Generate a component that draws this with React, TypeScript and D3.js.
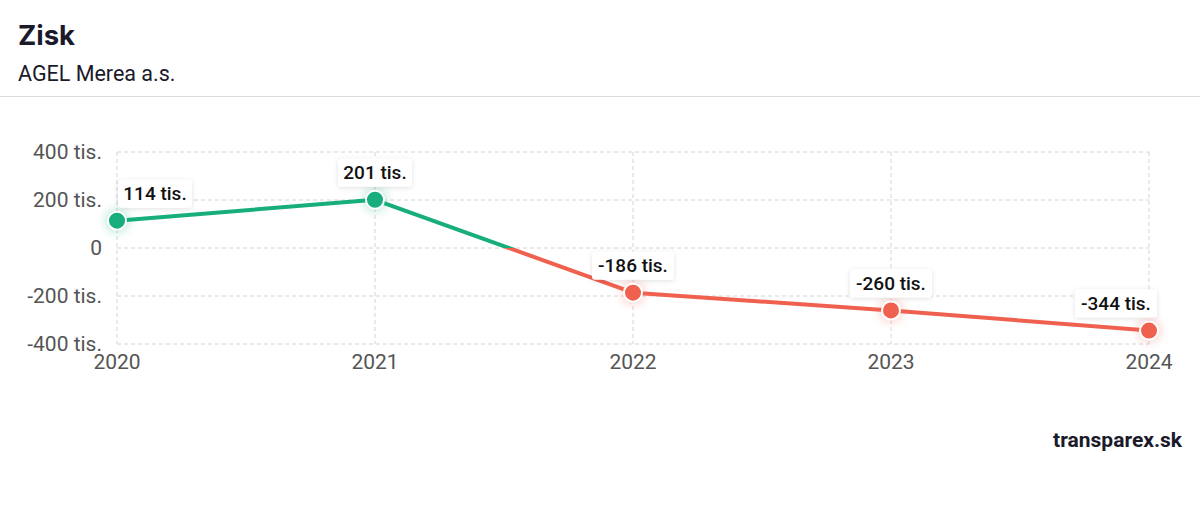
import React from "react";
import * as d3 from "d3";

const years = ["2020", "2021", "2022", "2023", "2024"];
const profit = [114, 201, -186, -260, -344];
const valueLabels = ["114 tis.", "201 tis.", "-186 tis.", "-260 tis.", "-344 tis."];
const yTicks = [400, 200, 0, -200, -400];
const yTickLabels = ["400 tis.", "200 tis.", "0", "-200 tis.", "-400 tis."];

const GREEN = "#17ad7c";
const RED = "#f0604f";

export default function App() {
  const W = 1200, H = 520;
  const x = d3.scalePoint<string>().domain(years).range([117, 1149]);
  const y = d3.scaleLinear().domain([-400, 400]).range([344, 152]);
  const pts = years.map((yr, i) => ({ yr, v: profit[i], lab: valueLabels[i] }));
  const line = d3.line<any>().x((d) => x(d.yr)!).y((d) => y(d.v));
  const zeroOff = (y(0) - 152) / (344 - 152);

  const labelW = (s: string) => s.length * 8 + 10;

  return (
    <div style={{ position: "absolute", left: 0, top: 0 }}>
      <svg width={W} height={H} style={{ display: "block", background: "#fff" }}>
        <defs>
          <linearGradient id="lg" gradientUnits="userSpaceOnUse" x1="0" y1="152" x2="0" y2="344">
            <stop offset={zeroOff} stopColor={GREEN} />
            <stop offset={zeroOff} stopColor={RED} />
          </linearGradient>
          <filter id="glow" x="-150%" y="-150%" width="400%" height="400%">
            <feGaussianBlur stdDeviation="5" />
          </filter>
          <filter id="shadow" x="-30%" y="-50%" width="160%" height="200%">
            <feDropShadow dx="0" dy="1" stdDeviation="2.5" floodColor="#000" floodOpacity="0.12" />
          </filter>
        </defs>
        <text x={18} y={45} fontFamily="Inter, Roboto, sans-serif" fontWeight={700} fontSize={27.5} fill="#1a1a2a">Zisk</text>
        <text x={18} y={81} fontFamily="Roboto, sans-serif" fontSize={21.5} fill="#1a1a2a">AGEL Merea a.s.</text>
        <line x1={0} x2={W} y1={96.5} y2={96.5} stroke="#dcdcdc" strokeWidth={1} />

        {yTicks.map((t, i) => (
          <g key={t}>
            <line x1={117} x2={1149} y1={y(t)} y2={y(t)} stroke="#d4d4d8" strokeDasharray="4 3" strokeWidth={1} />
            <text x={102} y={y(t)} dy="0.35em" textAnchor="end" fontFamily="Roboto, sans-serif" fontSize={21} fill="#555">{yTickLabels[i]}</text>
          </g>
        ))}
        {years.map((yr) => (
          <g key={yr}>
            <line x1={x(yr)} x2={x(yr)} y1={152} y2={344} stroke="#d4d4d8" strokeDasharray="4 3" strokeWidth={1} />
            <text x={x(yr)} y={369} textAnchor="middle" fontFamily="Roboto, sans-serif" fontSize={21} fill="#555">{yr}</text>
          </g>
        ))}

        <path d={line(pts) || ""} fill="none" stroke="url(#lg)" strokeWidth={4} strokeLinejoin="round" />

        {pts.map((p) => {
          const c = p.v >= 0 ? GREEN : RED;
          return (
            <g key={p.yr}>
              <circle cx={x(p.yr)} cy={y(p.v)} r={12} fill={c} opacity={0.25} filter="url(#glow)" />
              <circle cx={x(p.yr)} cy={y(p.v)} r={9} fill={c} stroke="#fff" strokeWidth={2} />
            </g>
          );
        })}

        {pts.map((p, i) => {
          const w = labelW(p.lab);
          const px = x(p.yr)!;
          let cx = px;
          if (i === 0) cx = px + 38;
          if (i === pts.length - 1) cx = 1157 - w / 2;
          const cy = y(p.v) - 27;
          return (
            <g key={"l" + p.yr}>
              <rect x={cx - w / 2} y={cy - 14} width={w} height={28} rx={3} fill="#fff" filter="url(#shadow)" />
              <text x={cx} y={cy} dy="0.35em" textAnchor="middle" fontFamily="Roboto, sans-serif" fontWeight={500} fontSize={19} fill="#111">{p.lab}</text>
            </g>
          );
        })}

        <text x={1182} y={447} textAnchor="end" fontFamily="Roboto, sans-serif" fontWeight={700} fontSize={21} fill="#1a1a2a">transparex.sk</text>
      </svg>
    </div>
  );
}
